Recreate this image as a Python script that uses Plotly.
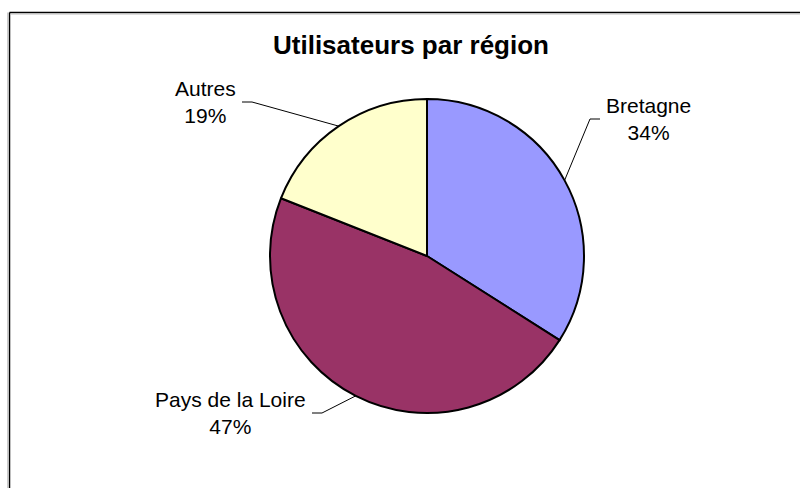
import math
import plotly.graph_objects as go

# ---- data ----
regions = ["Bretagne", "Pays de la Loire", "Autres"]
shares = [34, 47, 19]
colors = ["#9999FF", "#993366", "#FFFFCC"]
title_text = "Utilisateurs par région"

# ---- layout (pixels) ----
W, H = 800, 488
cx, cy, R = 427, 256, 157
# label anchor offsets from pie centre (px) and side
label_offsets = {"Bretagne": (177, -137, "left"),
                 "Pays de la Loire": (-119, 157, "right"),
                 "Autres": (-189, -154, "right")}

def px(x):
    return x / W

def py(y):
    return 1 - y / H

fig = go.Figure()
fig.add_trace(go.Pie(
    labels=regions, values=shares, sort=False, direction="clockwise",
    rotation=0, textinfo="none", hoverinfo="label+percent",
    marker=dict(colors=colors, line=dict(color="black", width=2)),
    domain=dict(x=[px(cx - R), px(cx + R)], y=[py(cy + R), py(cy - R)]),
    showlegend=False,
))

total = sum(shares)
shapes = []
annotations = []
cum = 0
for name, v in zip(regions, shares):
    mid = (cum + v / 2) / total * 2 * math.pi
    cum += v
    ex = cx + R * math.sin(mid)
    ey = cy - R * math.cos(mid)
    dx, dy, side = label_offsets[name]
    ax, ay = cx + dx, cy + dy
    sgn = -1 if side == "left" else 1
    endx = ax + sgn * 4
    elbx = endx + sgn * 10
    path = f"M {px(ex)},{py(ey)} L {px(elbx)},{py(ay)} L {px(endx)},{py(ay)}"
    shapes.append(dict(type="path", path=path, xref="paper", yref="paper",
                       line=dict(color="black", width=1)))
    pct = round(v / total * 100)
    annotations.append(dict(
        text=f"{name}<br>{pct}%", x=px(ax), y=py(ay), xref="paper", yref="paper",
        xanchor=side, yanchor="middle", align="center", showarrow=False,
        font=dict(family="Liberation Sans, Arial, sans-serif", size=21, color="black")))

annotations.append(dict(
    text=f"<b>{title_text}</b>", x=px(411), y=py(45), xref="paper", yref="paper",
    xanchor="center", yanchor="middle", showarrow=False,
    font=dict(family="Liberation Sans, Arial, sans-serif", size=26, color="black")))

# chart area border (top and left visible) with light shadow
shapes += [
    dict(type="line", xref="paper", yref="paper", x0=px(9.5), y0=py(12.5), x1=1, y1=py(12.5),
         line=dict(color="black", width=1.5)),
    dict(type="line", xref="paper", yref="paper", x0=px(9.5), y0=py(12.5), x1=px(9.5), y1=0,
         line=dict(color="black", width=1.5)),
    dict(type="line", xref="paper", yref="paper", x0=px(11), y0=py(14), x1=1, y1=py(14),
         line=dict(color="#BBBBBB", width=1)),
    dict(type="line", xref="paper", yref="paper", x0=px(7.5), y0=py(12.5), x1=px(7.5), y1=0,
         line=dict(color="#CCCCCC", width=1)),
]

fig.update_layout(
    width=W, height=H, margin=dict(l=0, r=0, t=0, b=0),
    paper_bgcolor="white", plot_bgcolor="white",
    shapes=shapes, annotations=annotations,
)

fig.write_html("out.html", config={"displayModeBar": False},
               post_script="document.body.style.margin='0px';document.body.style.overflow='hidden';")
